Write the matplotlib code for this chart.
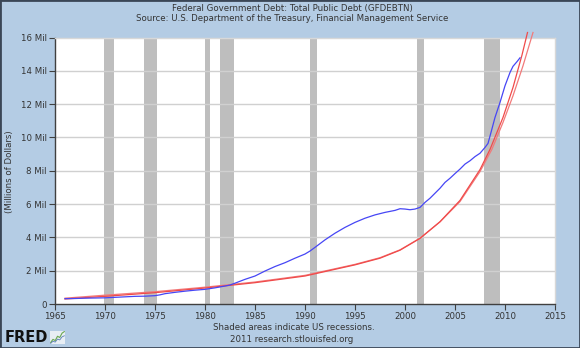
import matplotlib
matplotlib.use("Agg")
import matplotlib.pyplot as plt
from matplotlib.patches import Rectangle

# Total public debt (millions of millions of dollars)
debt_years = [1966.0, 1967.0, 1968.0, 1969.0, 1970.0, 1971.0, 1972.0, 1973.0, 1974.0,
              1975.0, 1975.5, 1976.0, 1977.0, 1978.0, 1979.0, 1980.0, 1981.0, 1982.0,
              1982.5, 1983.0, 1984.0, 1985.0, 1986.0, 1987.0, 1988.0, 1989.0, 1990.0,
              1990.5, 1991.0, 1992.0, 1993.0, 1994.0, 1995.0, 1996.0, 1997.0, 1998.0,
              1999.0, 1999.5, 2000.0, 2000.5, 2001.0, 2001.5, 2002.0, 2002.5, 2003.0,
              2003.5, 2004.0, 2004.5, 2005.0, 2005.5, 2006.0, 2006.5, 2007.0, 2007.5,
              2008.0, 2008.3, 2008.6, 2009.0, 2009.5, 2010.0, 2010.5, 2010.8, 2011.2, 2011.5]
debt_vals = [0.32, 0.33, 0.35, 0.36, 0.37, 0.40, 0.43, 0.46, 0.47,
             0.50, 0.55, 0.62, 0.70, 0.77, 0.83, 0.88, 0.97, 1.08,
             1.14, 1.25, 1.48, 1.68, 1.98, 2.25, 2.48, 2.75, 3.00,
             3.18, 3.40, 3.85, 4.25, 4.60, 4.90, 5.15, 5.35, 5.50,
             5.62, 5.72, 5.70, 5.66, 5.70, 5.80, 6.10, 6.35, 6.65,
             6.95, 7.30, 7.55, 7.83, 8.10, 8.40, 8.60, 8.85, 9.05,
             9.40, 9.64, 10.30, 11.20, 12.10, 13.10, 13.90, 14.27, 14.55, 14.78]

# Two red trend curves drawn over the series
trend1_years = [1966.0, 1970.0, 1975.0, 1980.0, 1985.0, 1990.0, 1995.0, 1997.5, 1999.5,
                2001.5, 2003.5, 2005.5, 2007.5, 2008.5, 2009.8, 2010.8, 2011.7, 2012.25]
trend1_vals = [0.30, 0.46, 0.68, 0.96, 1.28, 1.68, 2.35, 2.75, 3.23,
               3.94, 4.94, 6.22, 8.07, 9.28, 11.2, 13.0, 14.95, 16.3]
trend2_years = [1966.0, 1970.0, 1975.0, 1980.0, 1985.0, 1990.0, 1995.0, 1997.5, 1999.5,
                2001.5, 2003.5, 2005.5, 2007.5, 2008.7, 2009.8, 2010.8, 2011.8, 2012.8]
trend2_vals = [0.35, 0.53, 0.74, 1.01, 1.32, 1.72, 2.38, 2.78, 3.25,
               3.95, 4.93, 6.15, 7.95, 9.30, 10.9, 12.5, 14.3, 16.3]

# US recessions (start, end)
recessions = [(1969.92, 1970.88), (1973.88, 1975.21), (1980.0, 1980.54),
              (1981.54, 1982.88), (1990.54, 1991.21), (2001.21, 2001.88),
              (2007.92, 2009.46)]

y_ticks = [0, 2, 4, 6, 8, 10, 12, 14, 16]
y_labels = ["0", "2 Mil", "4 Mil", "6 Mil", "8 Mil", "10 Mil", "12 Mil", "14 Mil", "16 Mil"]
x_ticks = [1965, 1970, 1975, 1980, 1985, 1990, 1995, 2000, 2005, 2010, 2015]

# little FRED icon line
icon_x = [0, 1, 2, 3, 4, 5, 6]
icon_y = [1, 2, 1.6, 3, 2.6, 4, 4.5]

BG = "#B4CCE4"
TXT = "#333333"
FS = 6.2

fig = plt.figure(figsize=(5.8, 3.48), dpi=100, facecolor=BG)
fig.patches.append(Rectangle((0, 0), 1, 1, transform=fig.transFigure, fill=False,
                             edgecolor="#3a4656", linewidth=2.0, zorder=10))

ax = fig.add_axes([55 / 580, 1 - 304 / 348, 500 / 580, 266.5 / 348])
ax.set_facecolor("white")

for start, end in recessions:
    ax.axvspan(start, end, color="#BEBEBE", lw=0, zorder=1)

for yv in y_ticks[1:-1]:
    ax.axhline(yv, color="#D0D0D0", lw=1.0, zorder=2)

ax.plot(trend2_years, trend2_vals, color="#F27A7A", lw=0.9, zorder=3, clip_on=False)
ax.plot(trend1_years, trend1_vals, color="#F04A4A", lw=0.9, zorder=4, clip_on=False)
ax.plot(debt_years, debt_vals, color="#4646F5", lw=0.9, zorder=5)

ax.set_xlim(1965, 2015)
ax.set_ylim(0, 16)
ax.set_xticks(x_ticks)
ax.set_xticklabels([str(t) for t in x_ticks])
ax.set_yticks(y_ticks)
ax.set_yticklabels(y_labels)
ax.tick_params(axis="both", direction="out", length=4, width=0.8, color="#404040",
               labelsize=FS, labelcolor=TXT, pad=2)

for side in ["left", "bottom"]:
    ax.spines[side].set_color("#404040")
    ax.spines[side].set_linewidth(1.0)
for side in ["top", "right"]:
    ax.spines[side].set_color("#D8D8D8")
    ax.spines[side].set_linewidth(1.0)

fig.text(10 / 580, 1 - 172 / 348, "(Millions of Dollars)", rotation=90, ha="center",
         va="center", fontsize=FS, color=TXT)

fig.text(292 / 580, 1 - 8 / 348, "Federal Government Debt: Total Public Debt (GFDEBTN)",
         ha="center", va="center", fontsize=FS, color=TXT)
fig.text(292 / 580, 1 - 18.5 / 348,
         "Source: U.S. Department of the Treasury, Financial Management Service",
         ha="center", va="center", fontsize=FS, color=TXT)

fig.text(294 / 580, 1 - 328 / 348, "Shaded areas indicate US recessions.",
         ha="center", va="center", fontsize=FS, color=TXT)
fig.text(292 / 580, 1 - 339.5 / 348, "2011 research.stlouisfed.org",
         ha="center", va="center", fontsize=FS, color=TXT)

# FRED logo
fig.text(5 / 580, 1 - 338 / 348, "FRED", ha="left", va="center", fontsize=10.5,
         fontweight="bold", color="#111111")
icon = fig.add_axes([50 / 580, 1 - 344 / 348, 15 / 580, 13 / 348])
icon.set_facecolor("#E8EEF4")
icon.plot(icon_x, icon_y, color="#6AA84F", lw=0.8)
icon.plot(icon_x, [v * 0.7 for v in icon_y], color="#5B7DB5", lw=0.6)
icon.set_xticks([])
icon.set_yticks([])
for s in icon.spines.values():
    s.set_visible(False)

fig.savefig("out.png", dpi=100, facecolor=BG)
